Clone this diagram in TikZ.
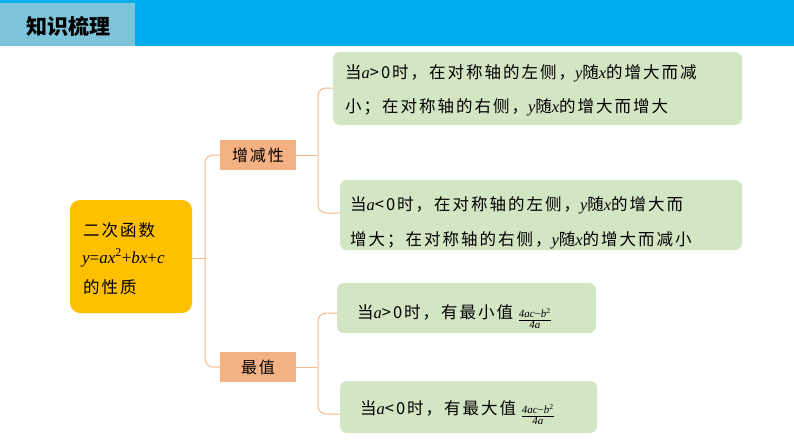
\documentclass[tikz,border=0pt]{standalone}
\usepackage{fontspec}
\setmainfont{Liberation Serif}
\newfontfamily\cjk[LetterSpace=12]{Noto Sans CJK SC}
\newfontfamily\cjkt{Noto Sans CJK SC}
\newfontfamily\lat{Liberation Serif}
\usetikzlibrary{calc}
\definecolor{hdr}{HTML}{00AEEF}
\definecolor{hdrl}{HTML}{7DC3DA}
\definecolor{gold}{HTML}{FFC000}
\definecolor{salmon}{HTML}{F4B183}
\definecolor{grn}{HTML}{D3E6C4}
\definecolor{brk}{HTML}{F6B98A}
\newcommand{\vi}[1]{{\lat\itshape #1}}
\newcommand{\fr}{\raisebox{-0.45ex}{\lat\fontsize{11}{12}\selectfont\renewcommand{\arraystretch}{0.9}\begin{tabular}{@{}c@{}}\itshape 4ac\upshape−\itshape b\textsuperscript{\upshape 2}\\\hline \itshape 4a\end{tabular}}}
\tikzset{
 gbox/.style={fill=grn,rounded corners=7pt,draw=none},
 sbox/.style={fill=salmon,draw=none,minimum width=76pt,minimum height=30pt,font=\cjk\fontsize{16}{18}\selectfont},
 txt/.style={anchor=west,inner sep=0,font=\cjk\fontsize{16.5}{18}\selectfont},
 brace/.style={draw=brk,line width=1pt,rounded corners=8pt}
}
\begin{document}
\begin{tikzpicture}[x=1pt,y=-1pt]
\useasboundingbox (0,0) rectangle (794,447);
\fill[white] (0,0) rectangle (794,447);
% header
\fill[hdr] (0,0) rectangle (794,46);
\fill[hdrl] (0,3) rectangle (135,46);
\node[inner sep=0,font=\cjkt\bfseries\fontsize{21}{24}\selectfont] (title) at (68,26) {知识梳理};
% left box
\fill[gold,rounded corners=10pt] (70,200) rectangle (192,313);
\node[inner sep=0,anchor=west,font=\cjk\fontsize{16.5}{18}\selectfont] (l1) at (83,230) {二次函数};
\node[inner sep=0,anchor=west,font=\lat\fontsize{17}{18}\selectfont] (l2) at (82,258) {\vi{y}=\vi{ax}\textsuperscript{2}+\vi{bx}+\vi{c}};
\node[inner sep=0,anchor=west,font=\cjk\fontsize{16.5}{18}\selectfont] (l3) at (83,287) {的性质};
\coordinate (root) at (192,258);
% mid boxes
\node[sbox] (inc) at (258,155) {增减性};
\node[sbox] (mx) at (258,367) {最值};
\draw[brace] (root) -- (205,258);
\draw[brace] (inc.west) -| (205,258) |- (mx.west);
% green boxes
\fill[gbox] (333,52) rectangle (742,125);
\fill[gbox] (340,180) rectangle (742,250);
\fill[gbox] (337,283) rectangle (596,333);
\fill[gbox] (340,381) rectangle (597,433);
\coordinate (g1) at (333,88);
\coordinate (g2) at (340,213);
\coordinate (g3) at (337,313);
\coordinate (g4) at (340,414);
\draw[brace] (inc.east) -- (318,155);
\draw[brace] (g1) -| (318,155) |- (g2);
\draw[brace] (mx.east) -- (318,367);
\draw[brace] (g3) -| (318,367) |- (g4);
% texts
\node[txt] (t1) at (345,73) {当\vi{a}>0时，在对称轴的左侧，\vi{y}随\vi{x}的增大而减};
\node[txt] (t2) at (345,107) {小；在对称轴的右侧，\vi{y}随\vi{x}的增大而增大};
\node[txt] (t3) at (350,205) {当\vi{a}<0时，在对称轴的左侧，\vi{y}随\vi{x}的增大而};
\node[txt] (t4) at (350,240) {增大；在对称轴的右侧，\vi{y}随\vi{x}的增大而减小};
\node[txt] (t5) at (357,318) {当\vi{a}>0时，有最小值 \fr};
\node[txt] (t6) at (360,414) {当\vi{a}<0时，有最大值 \fr};
\end{tikzpicture}
\end{document}
